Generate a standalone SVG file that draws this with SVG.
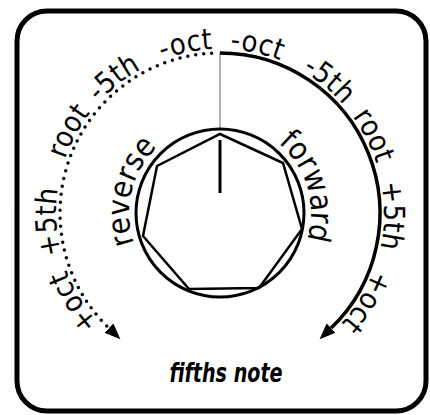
<svg xmlns="http://www.w3.org/2000/svg" width="430" height="415" viewBox="0 0 430 415">
<style>
.lbl{font-family:"DejaVu Sans Condensed","DejaVu Sans","Liberation Sans",sans-serif;font-stretch:condensed;font-size:29px;fill:#000;letter-spacing:0.3px}
.big{font-family:"DejaVu Sans Condensed","DejaVu Sans","Liberation Sans",sans-serif;font-stretch:condensed;font-size:31px;fill:#000}
.title{font-family:"DejaVu Sans Condensed","DejaVu Sans","Liberation Sans",sans-serif;font-stretch:condensed;font-size:27px;font-weight:bold;font-style:italic;fill:#000}
.arc{fill:none;stroke:#000;stroke-width:3.5}
</style>
<defs>
<path id="outer" d="M220,377 A164,164 0 1 1 220,49 A164,164 0 1 1 220,377"/>
<path id="inner" d="M220,304 A91,91 0 1 1 220,122 A91,91 0 1 1 220,304"/>
<marker id="arrow" markerUnits="userSpaceOnUse" markerWidth="20" markerHeight="16" refX="0" refY="8" orient="auto" viewBox="0 0 20 16">
<path d="M0,1.5 L16,8 L0,14.5 Z" fill="#000"/>
</marker>
</defs>
<rect id="frame" x="17" y="11" width="409" height="400" rx="30" ry="30" fill="#fff" stroke="#000" stroke-width="5"/>
<g id="connectors">
<line x1="220" y1="53" x2="220" y2="128" stroke="#999" stroke-width="1.5"/>
<path id="forward-arc" class="arc" d="M220,53 A160,160 0 0 1 331.1,328.1" marker-end="url(#arrow)"/>
<path id="reverse-arc" class="arc" d="M211.6,53.2 A160,160 0 0 0 108.9,328.1" stroke-dasharray="0 8" stroke-linecap="round" marker-end="url(#arrow)"/>
</g>
<g id="knob">
<circle cx="220" cy="213" r="84" fill="none" stroke="#000" stroke-width="3"/>
<polygon points="220,134 283,163 302,229 259,288 189,289 143,236 157,166" fill="none" stroke="#000" stroke-width="2.5" stroke-linejoin="miter"/>
<line x1="220" y1="140" x2="220" y2="193" stroke="#000" stroke-width="3"/>
</g>
<g id="labels-forward">
<text class="lbl" text-anchor="middle"><textPath href="#outer" startOffset="551">-oct</textPath></text>
<text class="lbl" text-anchor="middle"><textPath href="#outer" startOffset="628">-5th</textPath></text>
<text class="lbl" text-anchor="middle"><textPath href="#outer" startOffset="696">root</textPath></text>
<text class="lbl" text-anchor="middle"><textPath href="#outer" startOffset="775">+5th</textPath></text>
<text class="lbl" text-anchor="middle"><textPath href="#outer" startOffset="862">+oct</textPath></text>
</g>
<g id="labels-reverse">
<text class="lbl" text-anchor="middle"><textPath href="#outer" startOffset="482">-oct</textPath></text>
<text class="lbl" text-anchor="middle"><textPath href="#outer" startOffset="406">-5th</textPath></text>
<text class="lbl" text-anchor="middle"><textPath href="#outer" startOffset="339">root</textPath></text>
<text class="lbl" text-anchor="middle"><textPath href="#outer" startOffset="249">+5th</textPath></text>
<text class="lbl" text-anchor="middle"><textPath href="#outer" startOffset="168">+oct</textPath></text>
</g>
<g id="direction-labels">
<text class="big" text-anchor="middle"><textPath href="#inner" startOffset="402">forward</textPath></text>
<text class="big" text-anchor="middle"><textPath href="#inner" startOffset="164">reverse</textPath></text>
</g>
<g id="title">
<text class="title" x="226" y="382" text-anchor="middle" textLength="113" lengthAdjust="spacingAndGlyphs">fifths note</text>
</g>
</svg>
